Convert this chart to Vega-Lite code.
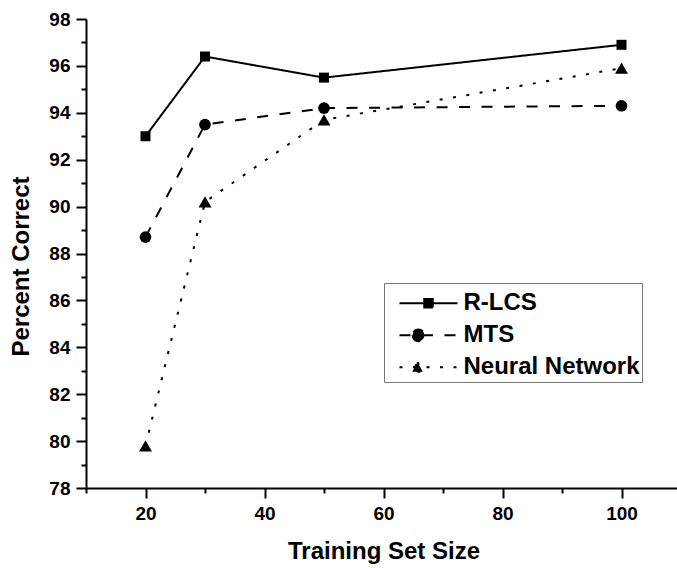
{
  "$schema": "https://vega.github.io/schema/vega-lite/v6.json",
  "autosize": {"type": "none"},
  "padding": {"left": 86, "top": 19, "right": 0, "bottom": 80},
  "width": 595,
  "height": 469,
  "background": "white",
  "config": {
    "view": {"stroke": null},
    "font": "Liberation Sans",
    "axis": {
      "grid": false,
      "domainColor": "black",
      "domainWidth": 2,
      "tickColor": "black",
      "tickWidth": 2,
      "labelColor": "black",
      "labelFont": "Liberation Sans",
      "labelFontWeight": "bold",
      "labelFontSize": 19,
      "titleColor": "black",
      "titleFont": "Liberation Sans",
      "titleFontWeight": "bold",
      "titleFontSize": 24
    }
  },
  "data": {
    "values": [
      {"size": 20, "pct": 93.0, "method": "R-LCS"},
      {"size": 30, "pct": 96.4, "method": "R-LCS"},
      {"size": 50, "pct": 95.5, "method": "R-LCS"},
      {"size": 100, "pct": 96.9, "method": "R-LCS"},
      {"size": 20, "pct": 88.7, "method": "MTS"},
      {"size": 30, "pct": 93.5, "method": "MTS"},
      {"size": 50, "pct": 94.2, "method": "MTS"},
      {"size": 100, "pct": 94.3, "method": "MTS"},
      {"size": 20, "pct": 79.8, "method": "Neural Network"},
      {"size": 30, "pct": 90.2, "method": "Neural Network"},
      {"size": 50, "pct": 93.7, "method": "Neural Network"},
      {"size": 100, "pct": 95.9, "method": "Neural Network"}
    ]
  },
  "resolve": {"axis": {"x": "independent", "y": "independent"}},
  "layer": [
    {
      "mark": {"type": "line", "color": "black", "strokeWidth": 2},
      "encoding": {
        "x": {
          "field": "size", "type": "quantitative",
          "scale": {"domain": [10, 110], "nice": false, "zero": false},
          "axis": {"title": "Training Set Size", "values": [20, 40, 60, 80, 100], "tickSize": 10, "labelPadding": 6, "titlePadding": 16}
        },
        "y": {
          "field": "pct", "type": "quantitative",
          "scale": {"domain": [78, 98], "nice": false, "zero": false},
          "axis": {"title": "Percent Correct", "values": [78, 80, 82, 84, 86, 88, 90, 92, 94, 96, 98], "tickSize": 10, "labelPadding": 6, "titlePadding": 15, "titleY": 247}
        },
        "strokeDash": {
          "field": "method", "type": "nominal",
          "scale": {"domain": ["R-LCS", "MTS", "Neural Network"], "range": [[1, 0], [11, 11.5], [3, 10.5]]},
          "legend": {
            "title": " ",
            "titleFontSize": 3,
            "titlePadding": 3.3,
            "orient": "none",
            "legendX": 298,
            "legendY": 264,
            "padding": 2,
            "strokeColor": "#777777",
            "fillColor": "white",
            "labelFont": "Liberation Sans",
            "labelFontWeight": "bold",
            "labelFontSize": 24,
            "labelColor": "black",
            "labelLimit": 400,
            "labelOffset": 23,
            "symbolOffset": 30.5,
            "symbolSize": 100,
            "symbolStrokeWidth": 2,
            "symbolStrokeColor": "black",
            "rowPadding": 8,
            "encode": {
              "entries": {
                "update": {
                  "width": {"value": 265},
                  "fill": {"value": "transparent"}
                }
              },
              "symbols": {
                "update": {
                  "shape": {"signal": "datum.value === 'R-LCS' ? 'M-5.8,0H5.8M-0.85,-0.85H0.85V0.85H-0.85Z' : datum.value === 'MTS' ? 'M-5.8,0H5.8M-3.17,0A1.17,1.17 0 1,0 -0.83,0A1.17,1.17 0 1,0 -3.17,0Z' : 'M-5.8,0H5.8M-2.2,-1.05L-1.15,0.9L-3.25,0.9Z'"},
                  "strokeDash": {"signal": "datum.value === 'R-LCS' ? [1, 0] : datum.value === 'MTS' ? [8, 38, 12, 100] : [2.5, 5.8]"},
                  "fill": {"value": "black"},
                  "stroke": {"value": "black"},
                  "strokeWidth": {"value": 2}
                }
              }
            }
          }
        }
      }
    },
    {
      "transform": [{"filter": "datum.method === 'R-LCS'"}],
      "mark": {"type": "point", "filled": true, "opacity": 1, "color": "black", "shape": "square", "size": 100},
      "encoding": {
        "x": {"field": "size", "type": "quantitative", "axis": null},
        "y": {"field": "pct", "type": "quantitative", "axis": null}
      }
    },
    {
      "transform": [{"filter": "datum.method === 'MTS'"}],
      "mark": {"type": "point", "filled": true, "opacity": 1, "color": "black", "shape": "circle", "size": 137},
      "encoding": {
        "x": {"field": "size", "type": "quantitative", "axis": null},
        "y": {"field": "pct", "type": "quantitative", "axis": null}
      }
    },
    {
      "transform": [{"filter": "datum.method === 'Neural Network'"}],
      "mark": {"type": "point", "filled": true, "opacity": 1, "color": "black", "shape": "triangle-up", "size": 169},
      "encoding": {
        "x": {"field": "size", "type": "quantitative", "axis": null},
        "y": {"field": "pct", "type": "quantitative", "axis": null}
      }
    },
    {
      "mark": {"type": "point", "opacity": 0},
      "encoding": {
        "x": {
          "field": "size", "type": "quantitative",
          "axis": {"title": null, "values": [10, 30, 50, 70, 90, 110], "labels": false, "domain": false, "tickSize": 5, "orient": "bottom"}
        },
        "y": {
          "field": "pct", "type": "quantitative",
          "axis": {"title": null, "values": [79, 81, 83, 85, 87, 89, 91, 93, 95, 97], "labels": false, "domain": false, "tickSize": 5, "orient": "left"}
        }
      }
    }
  ]
}
